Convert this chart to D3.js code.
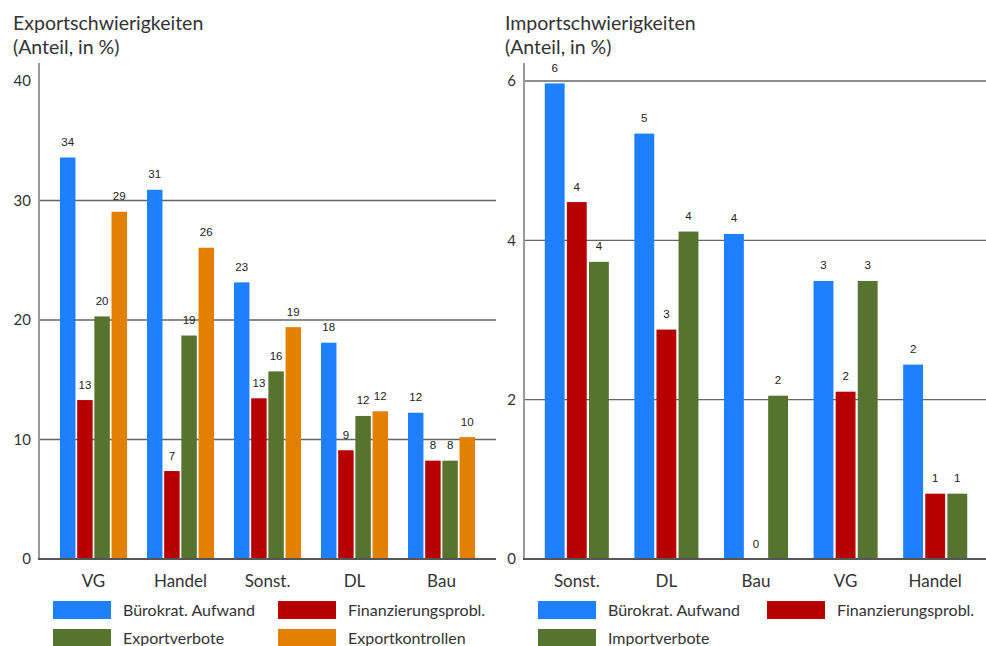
<!DOCTYPE html>
<html>
<head>
<meta charset="utf-8">
<script src="https://cdn.jsdelivr.net/npm/d3@7"></script>
<style>
  html, body { margin: 0; padding: 0; background: #fff; }
  svg { display: block; }
  text { font-family: Lato, "Open Sans", sans-serif; fill: #333; }
  .val { font-family: "Liberation Sans", Arial, sans-serif; font-size: 11.5px; fill: #222; }
</style>
</head>
<body>
<svg id="chart" width="986" height="646"></svg>
<script>
// Export difficulties by sector
const exportCategories = ["VG", "Handel", "Sonst.", "DL", "Bau"];
const exportSeriesNames = ["Bürokrat. Aufwand", "Finanzierungsprobl.", "Exportverbote", "Exportkontrollen"];
const exportBuerokratie = [33.6, 30.9, 23.15, 18.1, 12.24];
const exportFinanzierung = [13.3, 7.36, 13.45, 9.1, 8.23];
const exportVerbote = [20.3, 18.7, 15.7, 11.97, 8.23];
const exportKontrollen = [29.06, 26.05, 19.4, 12.36, 10.2];
const exportTicks = [0, 10, 20, 30, 40];
const exportGrid = [10, 20, 30];

// Import difficulties by sector
const importCategories = ["Sonst.", "DL", "Bau", "VG", "Handel"];
const importSeriesNames = ["Bürokrat. Aufwand", "Finanzierungsprobl.", "Importverbote"];
const importBuerokratie = [5.97, 5.34, 4.08, 3.49, 2.44];
const importFinanzierung = [4.48, 2.88, 0, 2.1, 0.82];
const importVerbote = [3.73, 4.11, 2.05, 3.49, 0.82];
const importTicks = [0, 2, 4, 6];
const importGrid = [2, 4, 6];

const colors = ["#1f80ff", "#b70000", "#56742f", "#e38000"];

const svg = d3.select("#chart");

function drawPanel(cfg) {
  const g = svg.append("g");
  const { categories, seriesNames, series, ticks, grid, yMax, left, right, bandRange, padInner, padOuter } = cfg;
  const top = 81, bottom = 559;

  const y = d3.scaleLinear().domain([0, yMax]).range([bottom, top]);
  const x0 = d3.scaleBand().domain(categories).range(bandRange)
    .paddingInner(padInner).paddingOuter(padOuter);
  const x1 = d3.scaleBand().domain(d3.range(series.length))
    .range([0, x0.bandwidth()]).paddingInner(0.1);

  // titles
  g.append("text").attr("x", cfg.titleX).attr("y", 30)
    .style("font-size", "19.5px").text(cfg.title);
  g.append("text").attr("x", cfg.titleX).attr("y", 54)
    .style("font-size", "19.5px").text("(Anteil, in %)");

  // gridlines
  g.selectAll(".grid").data(grid).join("line")
    .attr("x1", left).attr("x2", right)
    .attr("y1", d => y(d)).attr("y2", d => y(d))
    .attr("stroke", "#666").attr("stroke-width", 1.4);

  // y axis (labels only, own line)
  const yAxis = d3.axisLeft(y).tickValues(ticks).tickSize(0).tickPadding(8).tickFormat(d3.format("d"));
  const ya = g.append("g").attr("transform", `translate(${left},0)`).call(yAxis);
  ya.select(".domain").remove();
  ya.selectAll("text").style("font-family", "Lato, sans-serif").style("font-size", "15px").attr("fill", "#333");

  // bars
  const groups = g.selectAll(".grp").data(categories).join("g")
    .attr("transform", d => `translate(${x0(d)},0)`);
  groups.each(function (cat, ci) {
    const sel = d3.select(this);
    series.forEach((vals, si) => {
      const v = vals[ci];
      sel.append("rect")
        .attr("x", x1(si)).attr("width", x1.bandwidth())
        .attr("y", y(v)).attr("height", bottom - y(v))
        .attr("fill", colors[si]);
      sel.append("text").attr("class", "val")
        .attr("x", x1(si) + x1.bandwidth() / 2)
        .attr("y", y(v) - 11.5)
        .attr("text-anchor", "middle")
        .text(d3.format(".0f")(v));
    });
  });

  // vertical axis line and baseline
  g.append("line").attr("x1", left).attr("x2", left).attr("y1", 63).attr("y2", bottom)
    .attr("stroke", "#999").attr("stroke-width", 2);
  g.append("line").attr("x1", left - 1).attr("x2", right).attr("y1", bottom).attr("y2", bottom)
    .attr("stroke", "#555").attr("stroke-width", 2);

  // category axis
  const xAxis = d3.axisBottom(x0).tickSize(0).tickPadding(16);
  const xa = g.append("g").attr("transform", `translate(0,${bottom})`).call(xAxis);
  xa.select(".domain").remove();
  xa.selectAll("text").style("font-family", "Lato, sans-serif").style("font-size", "17px").attr("fill", "#333");

  // legend
  const leg = g.append("g");
  seriesNames.forEach((name, i) => {
    const col = i % 2, row = Math.floor(i / 2);
    const lx = cfg.legendX[col], ly = 601 + row * 28;
    leg.append("rect").attr("x", lx).attr("y", ly).attr("width", 58).attr("height", 18)
      .attr("fill", colors[i]);
    leg.append("text").attr("x", lx + 70).attr("y", ly + 15)
      .style("font-size", "16px").text(name);
  });
}

drawPanel({
  title: "Exportschwierigkeiten", titleX: 13,
  categories: exportCategories,
  seriesNames: exportSeriesNames,
  series: [exportBuerokratie, exportFinanzierung, exportVerbote, exportKontrollen],
  ticks: exportTicks, grid: exportGrid, yMax: 40,
  left: 39, right: 496, bandRange: [50, 485], padInner: 0.23, padOuter: 0.115,
  legendX: [53, 278]
});

drawPanel({
  title: "Importschwierigkeiten", titleX: 505,
  categories: importCategories,
  seriesNames: importSeriesNames,
  series: [importBuerokratie, importFinanzierung, importVerbote],
  ticks: importTicks, grid: importGrid, yMax: 6,
  left: 524, right: 986, bandRange: [532, 980], padInner: 0.285, padOuter: 0.1425,
  legendX: [538, 767]
});
</script>
</body>
</html>
